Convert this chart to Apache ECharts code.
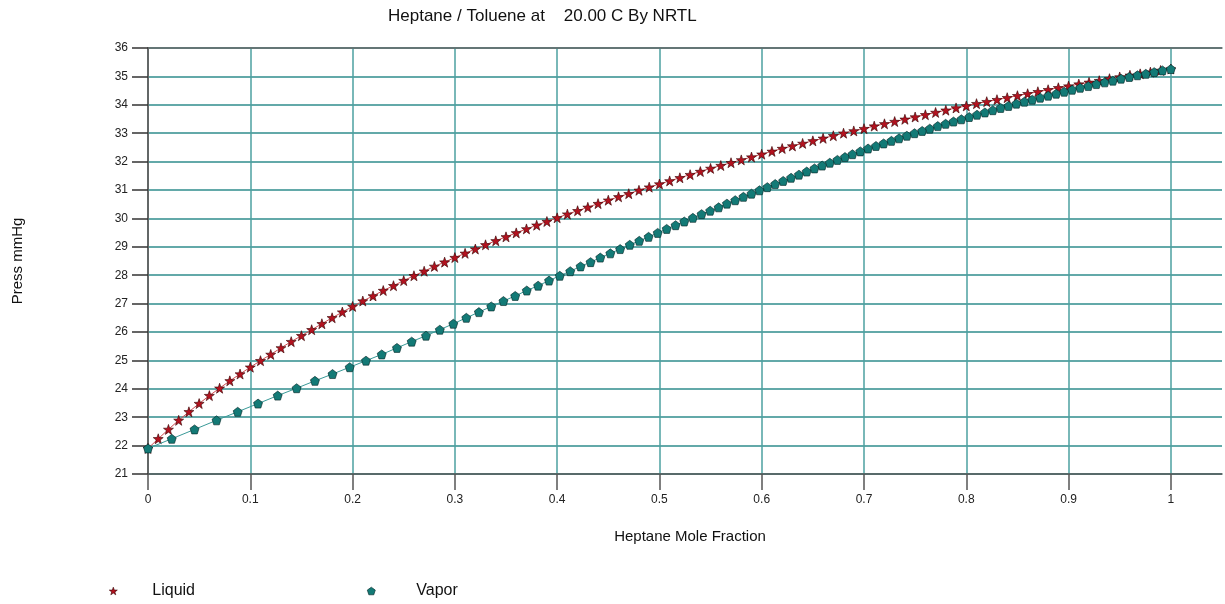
<!DOCTYPE html>
<html>
<head>
    <meta charset="utf-8">
    <script src="https://cdn.jsdelivr.net/npm/echarts@6/dist/echarts.min.js"></script>
</head>
<body style="margin:0;">
<div id="main" style="width:1225px;height:604px;"></div>
<script type="text/javascript">

  // liquid mole fraction of heptane
  var liquidX = [0, 0.01, 0.02, 0.03, 0.04, 0.05, 0.06, 0.07, 0.08, 0.09,
    0.10, 0.11, 0.12, 0.13, 0.14, 0.15, 0.16, 0.17, 0.18, 0.19,
    0.20, 0.21, 0.22, 0.23, 0.24, 0.25, 0.26, 0.27, 0.28, 0.29,
    0.30, 0.31, 0.32, 0.33, 0.34, 0.35, 0.36, 0.37, 0.38, 0.39,
    0.40, 0.41, 0.42, 0.43, 0.44, 0.45, 0.46, 0.47, 0.48, 0.49,
    0.50, 0.51, 0.52, 0.53, 0.54, 0.55, 0.56, 0.57, 0.58, 0.59,
    0.60, 0.61, 0.62, 0.63, 0.64, 0.65, 0.66, 0.67, 0.68, 0.69,
    0.70, 0.71, 0.72, 0.73, 0.74, 0.75, 0.76, 0.77, 0.78, 0.79,
    0.80, 0.81, 0.82, 0.83, 0.84, 0.85, 0.86, 0.87, 0.88, 0.89,
    0.90, 0.91, 0.92, 0.93, 0.94, 0.95, 0.96, 0.97, 0.98, 0.99, 1];

  // vapour mole fraction in equilibrium with each liquid point
  var vaporY = [0, 0.0232, 0.0455, 0.0670, 0.0877, 0.1076, 0.1268, 0.1453, 0.1632, 0.1804,
    0.1972, 0.2131, 0.2285, 0.2434, 0.2578, 0.2718, 0.2853, 0.2985, 0.3112, 0.3235,
    0.3356, 0.3475, 0.3590, 0.3703, 0.3814, 0.3921, 0.4026, 0.4128, 0.4229, 0.4327,
    0.4422, 0.4520, 0.4616, 0.4710, 0.4803, 0.4894, 0.4983, 0.5071, 0.5158, 0.5243,
    0.5327, 0.5412, 0.5496, 0.5579, 0.5660, 0.5741, 0.5821, 0.5900, 0.5978, 0.6055,
    0.6132, 0.6210, 0.6287, 0.6364, 0.6440, 0.6516, 0.6591, 0.6666, 0.6740, 0.6814,
    0.6887, 0.6964, 0.7040, 0.7117, 0.7192, 0.7268, 0.7343, 0.7419, 0.7494, 0.7569,
    0.7643, 0.7721, 0.7798, 0.7875, 0.7952, 0.8029, 0.8105, 0.8182, 0.8259, 0.8336,
    0.8413, 0.8490, 0.8568, 0.8645, 0.8723, 0.8801, 0.8879, 0.8957, 0.9035, 0.9114,
    0.9193, 0.9272, 0.9353, 0.9433, 0.9513, 0.9594, 0.9674, 0.9755, 0.9837, 0.9918, 1];

  // bubble pressure, mmHg
  var pressure = [21.90, 22.24, 22.57, 22.89, 23.19, 23.48, 23.76, 24.02, 24.28, 24.52,
    24.76, 24.99, 25.21, 25.44, 25.66, 25.87, 26.08, 26.29, 26.50, 26.70,
    26.90, 27.09, 27.27, 27.46, 27.63, 27.81, 27.98, 28.14, 28.31, 28.46,
    28.62, 28.77, 28.92, 29.07, 29.21, 29.35, 29.49, 29.63, 29.76, 29.89,
    30.02, 30.15, 30.27, 30.39, 30.52, 30.64, 30.76, 30.87, 30.99, 31.10,
    31.21, 31.32, 31.43, 31.54, 31.65, 31.76, 31.86, 31.96, 32.06, 32.16,
    32.26, 32.36, 32.46, 32.55, 32.64, 32.73, 32.82, 32.91, 33.00, 33.08,
    33.16, 33.25, 33.33, 33.41, 33.49, 33.57, 33.65, 33.73, 33.81, 33.89,
    33.96, 34.04, 34.11, 34.18, 34.25, 34.32, 34.39, 34.46, 34.53, 34.60,
    34.66, 34.73, 34.79, 34.85, 34.92, 34.98, 35.04, 35.09, 35.15, 35.21, 35.26];

  var xTicks = [0, 0.1, 0.2, 0.3, 0.4, 0.5, 0.6, 0.7, 0.8, 0.9, 1];

  var starPath = 'path://M0,-10 L2.35,-3.24 L9.51,-3.09 L3.8,1.24 L5.88,8.09 L0,4 L-5.88,8.09 L-3.8,1.24 L-9.51,-3.09 L-2.35,-3.24 Z';
  var pentaPath = 'path://M0,-10 L9.51,-3.09 L5.88,8.09 L-5.88,8.09 L-9.51,-3.09 Z';

  var liquidData = liquidX.map(function (x, i) { return [x, pressure[i]]; });
  var vaporData = vaporY.map(function (y, i) { return [y, pressure[i]]; });

  var font = '"Liberation Sans", Arial, sans-serif';
  var myChart = echarts.init(document.getElementById('main'));

  var option = {
    animation: false,
    backgroundColor: '#fff',
    title: {
      text: 'Heptane / Toluene at    20.00 C By NRTL',
      left: 383, top: 3,
      textStyle: { fontFamily: font, fontSize: 17, fontWeight: 'normal', color: '#111' }
    },
    legend: {
      left: 109, top: 583, padding: 0,
      itemWidth: 8, itemHeight: 8, itemGap: 172,
      textStyle: { fontFamily: font, fontSize: 16, color: '#111' },
      data: [
        { name: 'Liquid', icon: starPath, textStyle: { padding: [0, 0, 0, 30] },
          itemStyle: { color: '#b3121f', borderColor: '#300', borderWidth: 0.6 } },
        { name: 'Vapor', icon: pentaPath, textStyle: { padding: [0, 0, 0, 36] },
          itemStyle: { color: '#137a76', borderColor: '#022', borderWidth: 0.6 } }
      ]
    },
    grid: { left: 148, top: 48, right: 3, bottom: 130, containLabel: false, outerBoundsMode: 'none' },
    xAxis: [{
      type: 'value', min: 0, max: 1.05, interval: 0.1,
      name: 'Heptane Mole Fraction', nameLocation: 'middle', nameGap: 55,
      nameTextStyle: { fontFamily: font, fontSize: 15, color: '#111', padding: [0, 0, 0, 10] },
      axisLine: { lineStyle: { color: '#555', width: 1.5 } },
      axisTick: { show: true, length: 16, lineStyle: { color: '#555', width: 1.5 }, customValues: xTicks },
      axisLabel: { fontFamily: font, fontSize: 12, color: '#222', margin: 20, customValues: xTicks },
      splitLine: { lineStyle: { color: '#4da0a0', width: 1.5 } }
    }, {
      type: 'value', position: 'top', min: 0, max: 1.05,
      axisLine: { show: true, lineStyle: { color: '#666', width: 1.5 } },
      axisTick: { show: false }, axisLabel: { show: false }, splitLine: { show: false }
    }],
    yAxis: [{
      type: 'value', min: 21, max: 36, interval: 1,
      name: 'Press mmHg', nameLocation: 'middle', nameGap: 123, nameRotate: 90,
      nameTextStyle: { fontFamily: font, fontSize: 15, color: '#111' },
      axisLine: { show: true, lineStyle: { color: '#555', width: 1.5 } },
      axisTick: { show: true, length: 16, lineStyle: { color: '#333', width: 1.5 } },
      axisLabel: { fontFamily: font, fontSize: 12, color: '#222', margin: 20 },
      splitLine: { lineStyle: { color: '#2f8c8c', width: 1.5 } }
    }, {
      type: 'value', position: 'right', min: 21, max: 36,
      axisLine: { show: true, lineStyle: { color: '#666', width: 1.5 } },
      axisTick: { show: false }, axisLabel: { show: false }, splitLine: { show: false }
    }],
    series: [{
      name: 'Liquid', type: 'line', data: liquidData,
      symbol: starPath, symbolSize: 10,
      itemStyle: { color: '#b3121f', borderColor: '#300', borderWidth: 0.6 },
      lineStyle: { color: '#d04a50', width: 1 },
      z: 3
    }, {
      name: 'Vapor', type: 'line', data: vaporData,
      symbol: pentaPath, symbolSize: 9,
      itemStyle: { color: '#137a76', borderColor: '#022', borderWidth: 0.6 },
      lineStyle: { color: '#3a9a98', width: 1 },
      z: 4
    }]
  };

  myChart.setOption(option);

</script>
</body>
</html>
